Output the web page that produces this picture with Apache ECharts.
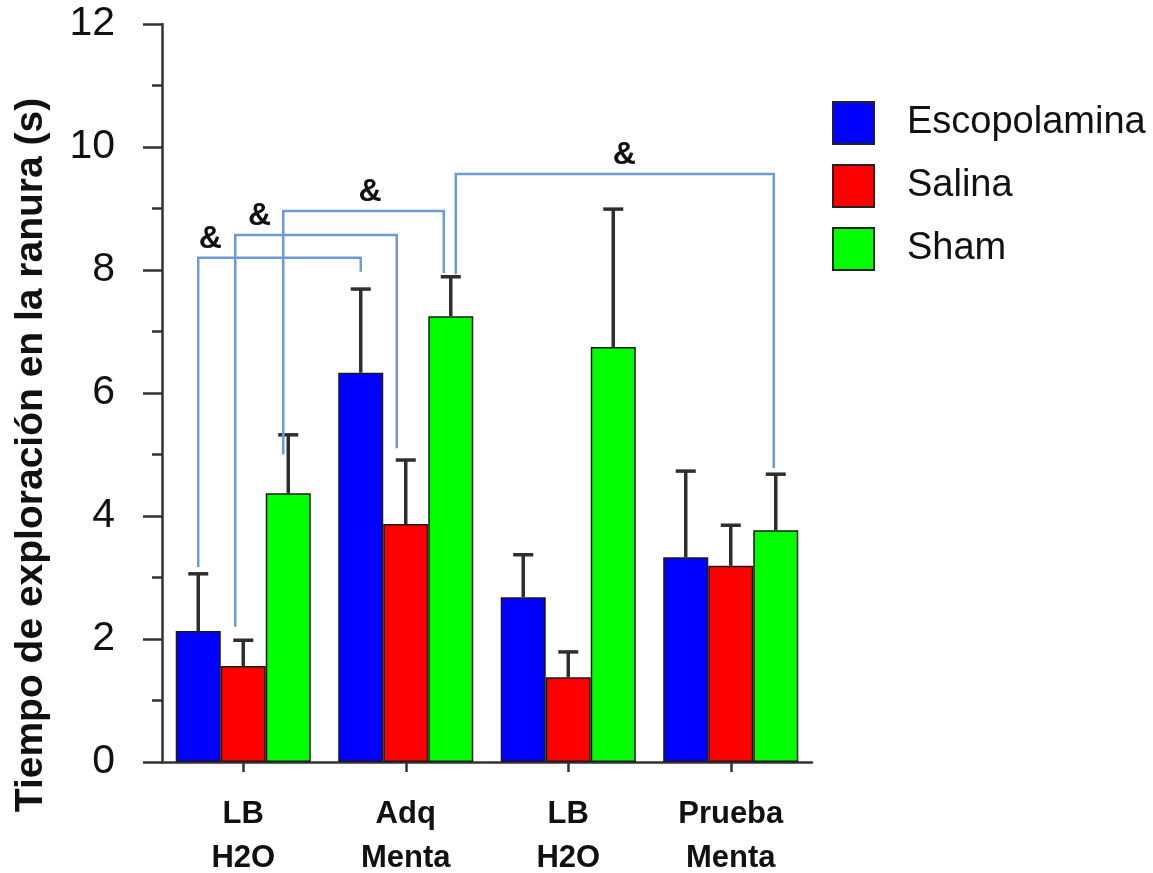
<!DOCTYPE html>
<html>
<head>
<meta charset="utf-8">
<script src="https://cdn.jsdelivr.net/npm/echarts@6/dist/echarts.min.js"></script>
<style>
  html, body { margin: 0; padding: 0; background: #ffffff; }
  #chart { width: 1153px; height: 873px; }
</style>
</head>
<body>
<div id="chart"></div>
<script>
// Groups along the x axis
const categories = ['LB\nH2O', 'Adq\nMenta', 'LB\nH2O', 'Prueba\nMenta'];
const seriesNames = ['Escopolamina', 'Salina', 'Sham'];

// Mean exploration time (s) and standard error per group
const escopolaminaMean = [2.13, 6.33, 2.68, 3.33];
const escopolaminaSem  = [0.93, 1.36, 0.69, 1.40];
const salinaMean = [1.56, 3.87, 1.38, 3.19];
const salinaSem  = [0.42, 1.04, 0.41, 0.66];
const shamMean = [4.37, 7.25, 6.75, 3.77];
const shamSem  = [0.95, 0.64, 2.24, 0.91];

// Y axis range and tick spacing
const yMin = 0;
const yMax = 12;
const yStep = 2;

// Significance brackets: [fromGroup, fromSeries, toGroup, toSeries, topY, fromEndY, toEndY]
const brackets = [
  [0, 0, 1, 0, 8.20, 3.17, 7.97],
  [0, 1, 1, 1, 8.57, 2.20, 5.10],
  [0, 2, 1, 2, 8.96, 5.00, 7.95],
  [1, 2, 3, 2, 9.56, 7.93, 4.78]
];
const bracketSymbols = ['&', '&', '&', '&'];

// ---- drawing setup ----
const BAR_FRAC = 0.277;              // bar width as a fraction of one category band
const colors = ['#0000ff', '#ff0000', '#00ff00'];
const FONT = '"Liberation Sans", Arial, Helvetica, sans-serif';
// small horizontal nudges (px) so bracket legs sit beside each other
const bracketNudge = [[0, 0], [-8, -9], [-5, -7], [5, -2]];
// where the symbol sits along each bracket (0 = left leg, 1 = right leg)
const symbolAlong = [0.075, 0.15, 0.54, 0.53];

const means = [escopolaminaMean, salinaMean, shamMean];
const sems = [escopolaminaSem, salinaSem, shamSem];

const errorData = [];
means.forEach((arr, s) => arr.forEach((m, g) => errorData.push([g, s, m, sems[s][g]])));

const bracketData = brackets.map((b, i) => [b[0], b[1], b[2], b[3], b[4], b[5], b[6], i]);

const chart = echarts.init(document.getElementById('chart'), null, { renderer: 'canvas' });

const barSeries = seriesNames.map((name, s) => ({
  name: name,
  type: 'bar',
  xAxisIndex: 0,
  yAxisIndex: 0,
  data: means[s],
  barWidth: (BAR_FRAC * 100).toFixed(1) + '%',
  barGap: '0%',
  itemStyle: { color: colors[s], borderColor: '#1a1a1a', borderWidth: 1.5 },
  emphasis: { disabled: true },
  z: 2
}));

const errorSeries = {
  type: 'custom',
  xAxisIndex: 1,
  yAxisIndex: 0,
  data: errorData,
  clip: false,
  z: 3,
  silent: true,
  renderItem: function (params, api) {
    const g = api.value(0), s = api.value(1), m = api.value(2), e = api.value(3);
    const xv = g + (s - 1) * BAR_FRAC;
    const p0 = api.coord([xv, m]);
    const p1 = api.coord([xv, m + e]);
    const st = { stroke: '#2e2e2e', lineWidth: 3.5 };
    return {
      type: 'group',
      children: [
        { type: 'line', shape: { x1: p0[0], y1: p0[1], x2: p1[0], y2: p1[1] }, style: st },
        { type: 'line', shape: { x1: p1[0] - 10, y1: p1[1], x2: p1[0] + 10, y2: p1[1] }, style: st }
      ]
    };
  }
};

const bracketSeries = {
  type: 'custom',
  xAxisIndex: 1,
  yAxisIndex: 0,
  data: bracketData,
  clip: false,
  z: 4,
  silent: true,
  renderItem: function (params, api) {
    const i = api.value(7);
    const x1v = api.value(0) + (api.value(1) - 1) * BAR_FRAC;
    const x2v = api.value(2) + (api.value(3) - 1) * BAR_FRAC;
    const top = api.value(4);
    const a = api.coord([x1v, api.value(5)]);
    const b = api.coord([x1v, top]);
    const c = api.coord([x2v, top]);
    const d = api.coord([x2v, api.value(6)]);
    const n = bracketNudge[i];
    const pts = [[a[0] + n[0], a[1]], [b[0] + n[0], b[1]], [c[0] + n[1], c[1]], [d[0] + n[1], d[1]]];
    const sx = pts[1][0] + (pts[2][0] - pts[1][0]) * symbolAlong[i];
    return {
      type: 'group',
      children: [
        { type: 'polyline', shape: { points: pts }, style: { stroke: '#6e9bd5', lineWidth: 2.5, fill: null } },
        {
          type: 'text',
          x: sx, y: pts[1][1] - 3,
          style: {
            text: bracketSymbols[i], fill: '#111111',
            font: 'bold 32px ' + FONT,
            textAlign: 'center', textVerticalAlign: 'bottom'
          }
        }
      ]
    };
  }
};

const option = {
  animation: false,
  backgroundColor: '#ffffff',
  grid: { left: 162, top: 24, width: 650, height: 738, containLabel: false, outerBoundsMode: 'none' },
  legend: {
    data: seriesNames,
    orient: 'vertical',
    left: 832,
    top: 101,
    padding: 0,
    icon: 'rect',
    itemWidth: 41,
    itemHeight: 42,
    itemGap: 19,
    itemStyle: { borderColor: '#222222', borderWidth: 2 },
    textStyle: { fontFamily: FONT, fontSize: 38, color: '#111111', padding: [0, 0, 0, 28] },
    selectedMode: false
  },
  xAxis: [
    {
      type: 'category',
      data: categories,
      axisLine: { show: true, onZero: false, lineStyle: { color: '#333333', width: 2.5 } },
      axisTick: { show: true, alignWithLabel: true, length: 10, lineStyle: { color: '#333333', width: 2.5 } },
      axisLabel: { fontFamily: FONT, fontSize: 31, fontWeight: 'bold', color: '#111111', lineHeight: 44, margin: 30, interval: 0 },
      splitLine: { show: false }
    },
    {
      type: 'value',
      min: -0.5,
      max: 3.5,
      show: false,
      splitLine: { show: false }
    }
  ],
  yAxis: {
    type: 'value',
    min: yMin,
    max: yMax,
    interval: yStep,
    name: 'Tiempo de exploración en la ranura (s)',
    nameLocation: 'middle',
    nameRotate: 90,
    nameGap: 111,
    nameTextStyle: { fontFamily: FONT, fontSize: 39, fontWeight: 'bold', color: '#111111', padding: [0, 124, 0, 0] },
    axisLine: { show: true, onZero: false, lineStyle: { color: '#333333', width: 2.5 } },
    axisTick: { show: true, length: 19, lineStyle: { color: '#333333', width: 2.5 } },
    minorTick: { show: true, splitNumber: 2, length: 10, lineStyle: { color: '#333333', width: 2.5 } },
    axisLabel: { fontFamily: FONT, fontSize: 41, color: '#111111', margin: 47 },
    splitLine: { show: false },
    minorSplitLine: { show: false }
  },
  series: barSeries.concat([errorSeries, bracketSeries])
};

chart.setOption(option);
</script>
</body>
</html>
